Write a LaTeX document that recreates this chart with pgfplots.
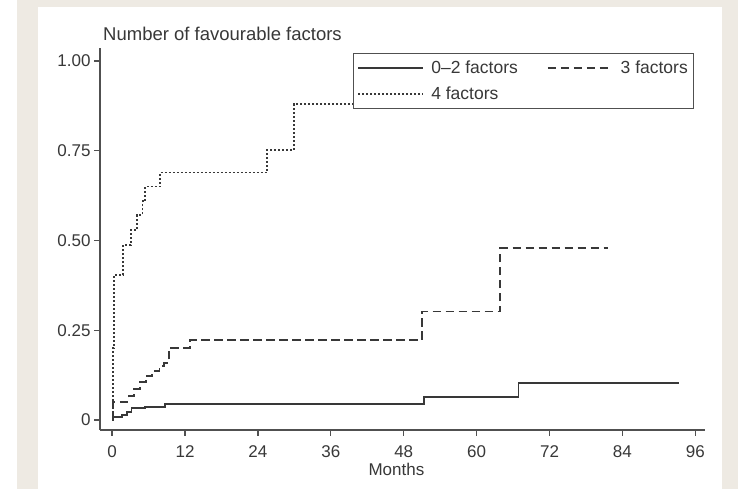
\documentclass[border=0pt]{standalone}
\usepackage{pgfplots}
\pgfplotsset{compat=1.18}
\usepackage{fontspec}
\setmainfont{Liberation Sans}
\definecolor{beige}{HTML}{EEEAE3}
\definecolor{ink}{HTML}{383838}
\definecolor{axisgray}{HTML}{505050}

\pgfplotstableread{
m v
0 0
0.2 0.008
1.6 0.014
2.4 0.023
3.2 0.033
5.4 0.037
8.7 0.045
51.4 0.065
66.9 0.102
93.3 0.102
}\lowdata

\pgfplotstableread{
m v
0 0
0.1 0.051
2.7 0.067
3.6 0.086
4.6 0.105
5.6 0.122
6.6 0.137
7.8 0.150
8.6 0.158
9.3 0.200
12.8 0.223
51.0 0.302
63.9 0.478
81.7 0.478
}\middata

\pgfplotstableread{
m v
0 0
0.1 0.200
0.3 0.404
1.85 0.487
3.1 0.529
4.1 0.571
5.0 0.610
5.4 0.650
7.9 0.689
25.5 0.752
29.9 0.880
45.0 0.880
}\highdata

\begin{document}
\begin{tikzpicture}[x=1pt,y=1pt]
\fill[white] (0,0) rectangle (738,489);
\fill[beige] (17,0) rectangle (738,489);
\fill[white] (38,0) rectangle (722,482);
\node[anchor=base west, inner sep=0pt, text=ink, font=\fontsize{18.5}{21}\selectfont] at (103,448) {Number of favourable factors};
\begin{axis}[
  at={(100pt,59pt)}, anchor=south west, scale only axis,
  width=605pt, height=382pt,
  xmin=-2, xmax=97.6, ymin=-0.028, ymax=1.036,
  axis x line*=bottom, axis y line*=left,
  axis line style={axisgray, line width=1.6pt, -},
  xtick={0,12,...,96}, ytick={0,0.25,0.5,0.75,1},
  yticklabels={0,0.25,0.50,0.75,1.00},
  tick style={axisgray, line width=1.3pt},
  tick align=outside, major tick length=6pt,
  /pgf/number format/assume math mode=true,
  tick label style={text=ink, font=\fontsize{17}{19}\selectfont},
  xticklabel style={yshift=-6pt},
  xlabel={Months},
  xlabel style={at={(axis description cs:0.49,0)}, anchor=center, yshift=-39pt, text=ink, font=\fontsize{17}{19}\selectfont},
  legend columns=2,
  legend cell align=left,
  legend style={at={(axis description cs:0.418,0.987)}, anchor=north west,
    draw=axisgray, line width=1.2pt, fill=white, text=ink,
    font=\fontsize{17.5}{19}\selectfont, inner xsep=4pt, inner ysep=5.5pt,
    row sep=7.5pt,
    /tikz/every odd column/.append style={column sep=5pt},
    /tikz/every even column/.append style={column sep=27pt}},
  legend image code/.code={\draw[#1] (0pt,0pt) -- (65pt,0pt);},
]
\addplot[ink, line width=1.8pt, const plot, solid] table[x=m,y=v] {\lowdata};
\addlegendentry{0–2 factors}
\addplot[ink, line width=1.8pt, const plot, dash pattern=on 8.5pt off 4.5pt] table[x=m,y=v] {\middata};
\addlegendentry{3 factors}
\addplot[ink, line width=1.8pt, const plot, dash pattern=on 2pt off 2pt] table[x=m,y=v] {\highdata};
\addlegendentry{4 factors}
\end{axis}
\end{tikzpicture}
\end{document}
